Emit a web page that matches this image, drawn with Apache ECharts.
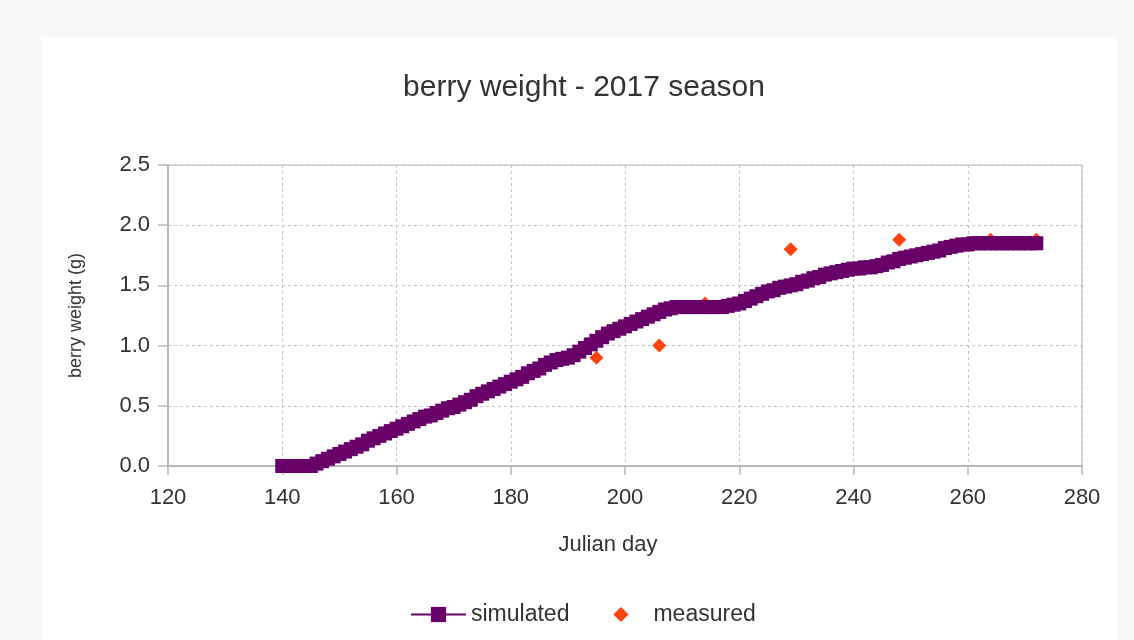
<!DOCTYPE html>
<html>
<head>
<meta charset="utf-8">
<script src="https://cdn.jsdelivr.net/npm/echarts@6/dist/echarts.min.js"></script>
<style>
  html, body { margin: 0; padding: 0; width: 1134px; height: 640px; background: #f8f8f8; overflow: hidden; }
  #chart { position: absolute; left: 41px; top: 37px; width: 1076px; height: 603px; background: #ffffff; }
</style>
</head>
<body>
<div id="chart"></div>
<script>
// ---- data ----
const titleText = 'berry weight - 2017 season';
const xAxisName = 'Julian day';
const yAxisName = 'berry weight (g)';
const seriesNames = ['simulated', 'measured'];

const simDays = [
  140, 141, 142, 143, 144, 145, 146, 147, 148, 149,
  150, 151, 152, 153, 154, 155, 156, 157, 158, 159,
  160, 161, 162, 163, 164, 165, 166, 167, 168, 169,
  170, 171, 172, 173, 174, 175, 176, 177, 178, 179,
  180, 181, 182, 183, 184, 185, 186, 187, 188, 189,
  190, 191, 192, 193, 194, 195, 196, 197, 198, 199,
  200, 201, 202, 203, 204, 205, 206, 207, 208, 209,
  210, 211, 212, 213, 214, 215, 216, 217, 218, 219,
  220, 221, 222, 223, 224, 225, 226, 227, 228, 229,
  230, 231, 232, 233, 234, 235, 236, 237, 238, 239,
  240, 241, 242, 243, 244, 245, 246, 247, 248, 249,
  250, 251, 252, 253, 254, 255, 256, 257, 258, 259,
  260, 261, 262, 263, 264, 265, 266, 267, 268, 269,
  270, 271, 272
];
const simWeight = [
  0.00, 0.00, 0.00, 0.00, 0.00, 0.00, 0.02, 0.04, 0.06, 0.08,
  0.10, 0.12, 0.14, 0.16, 0.18, 0.21, 0.23, 0.25, 0.27, 0.29,
  0.31, 0.33, 0.35, 0.37, 0.39, 0.41, 0.42, 0.44, 0.46, 0.48,
  0.49, 0.51, 0.53, 0.55, 0.58, 0.60, 0.62, 0.64, 0.66, 0.68,
  0.70, 0.72, 0.74, 0.77, 0.79, 0.81, 0.84, 0.86, 0.88, 0.89,
  0.90, 0.92, 0.95, 0.98, 1.01, 1.04, 1.07, 1.10, 1.12, 1.14,
  1.16, 1.18, 1.20, 1.22, 1.24, 1.26, 1.28, 1.30, 1.31, 1.32,
  1.32, 1.32, 1.32, 1.32, 1.32, 1.32, 1.32, 1.32, 1.33, 1.34,
  1.35, 1.37, 1.39, 1.41, 1.43, 1.45, 1.46, 1.48, 1.49, 1.50,
  1.51, 1.53, 1.54, 1.56, 1.57, 1.59, 1.60, 1.61, 1.62, 1.63,
  1.64, 1.64, 1.65, 1.65, 1.66, 1.67, 1.69, 1.70, 1.72, 1.73,
  1.74, 1.75, 1.76, 1.77, 1.78, 1.79, 1.81, 1.82, 1.83, 1.84,
  1.84, 1.85, 1.85, 1.85, 1.85, 1.85, 1.85, 1.85, 1.85, 1.85,
  1.85, 1.85, 1.85
];
const measDays = [195, 206, 214, 229, 248, 264, 272];
const measWeight = [0.90, 1.00, 1.35, 1.80, 1.88, 1.88, 1.88];

const xMin = 120, xMax = 280, xStep = 20;
const yMin = 0, yMax = 2.5, yStep = 0.5;

// ---- chart ----
const simData = simDays.map((d, i) => [d, simWeight[i]]);
const measData = measDays.map((d, i) => [d, measWeight[i]]);

const FONT = '"Liberation Sans", Arial, sans-serif';
const axisGray = '#b8b8b8';
const gridGray = '#c4c4c4';
const textGray = '#333333';

const chart = echarts.init(document.getElementById('chart'), null, { renderer: 'canvas' });
chart.setOption({
  animation: false,
  backgroundColor: '#ffffff',
  textStyle: { fontFamily: FONT },
  title: {
    text: titleText,
    left: 543,
    top: 36,
    textAlign: 'center',
    padding: 0,
    textStyle: { fontFamily: FONT, fontSize: 30, fontWeight: 'normal', color: textGray }
  },
  legend: {
    data: [
      { name: seriesNames[0] },
      { name: seriesNames[1], lineStyle: { width: 0, opacity: 0 } }
    ],
    left: 369,
    top: 566,
    padding: 0,
    itemWidth: 55,
    itemHeight: 19,
    itemGap: 24,
    textStyle: { fontFamily: FONT, fontSize: 23, color: textGray }
  },
  grid: {
    left: 127, right: 35, top: 128, bottom: 174,
    show: true, borderColor: axisGray, borderWidth: 1, containLabel: false
  },
  xAxis: {
    type: 'value',
    min: xMin, max: xMax, interval: xStep,
    name: xAxisName,
    nameLocation: 'middle',
    nameGap: 68,
    nameTextStyle: { fontFamily: FONT, fontSize: 22, color: textGray, padding: [0, 34, 0, 0] },
    axisLine: { show: true, lineStyle: { color: axisGray, width: 2 } },
    axisTick: { show: true, inside: false, length: 9, lineStyle: { color: axisGray, width: 1.5 } },
    axisLabel: { margin: 21, fontFamily: FONT, fontSize: 22, color: textGray },
    splitLine: { show: true, lineStyle: { color: gridGray, type: [3, 3], width: 1 } }
  },
  yAxis: {
    type: 'value',
    min: yMin, max: yMax, interval: yStep,
    name: yAxisName,
    nameLocation: 'middle',
    nameGap: 83,
    nameTextStyle: { fontFamily: FONT, fontSize: 18, color: textGray },
    axisLine: { show: true, lineStyle: { color: axisGray, width: 2 } },
    axisTick: { show: true, inside: false, length: 10, lineStyle: { color: axisGray, width: 1.5 } },
    axisLabel: { margin: 18, fontFamily: FONT, fontSize: 22, color: textGray,
      formatter: v => v.toFixed(1) },
    splitLine: { show: true, lineStyle: { color: gridGray, type: [3, 3], width: 1 } }
  },
  series: [
    {
      name: seriesNames[1],
      type: 'line',
      data: measData,
      symbol: 'diamond',
      symbolSize: 14,
      showSymbol: true,
      showAllSymbol: true,
      itemStyle: { color: '#ff420e', borderWidth: 0 },
      lineStyle: { width: 0, opacity: 0 },
      z: 2
    },
    {
      name: seriesNames[0],
      type: 'line',
      data: simData,
      symbol: 'rect',
      symbolSize: 14,
      showSymbol: true,
      showAllSymbol: true,
      itemStyle: { color: '#690069', borderWidth: 0 },
      lineStyle: { color: '#690069', width: 2 },
      z: 3
    }
  ]
});
</script>
</body>
</html>
